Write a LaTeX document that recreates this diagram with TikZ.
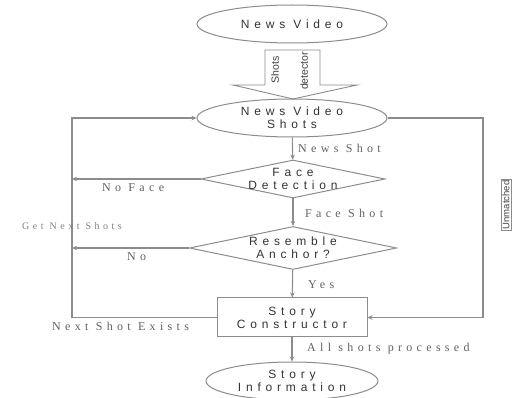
\documentclass[tikz,border=0pt]{standalone}
\usepackage{fontspec}
\setmainfont{Liberation Serif}
\newfontfamily\nodefont{Liberation Sans}[LetterSpace=40]
\newfontfamily\lblfont{Liberation Serif}[LetterSpace=36]
\newfontfamily\smlblfont{Liberation Serif}[LetterSpace=35]
\newfontfamily\plainsans{Liberation Sans}
\usetikzlibrary{shapes.geometric,arrows.meta}
\begin{document}
\begin{tikzpicture}[x=1pt,y=-1pt,
  line/.style={draw=black!45, line width=1.1pt},
  arr/.style={line, -{Stealth[length=5pt,width=4.5pt]}},
  ell/.style={ellipse, draw=black!45, line width=1pt, inner sep=0pt, align=center,
    font=\nodefont\fontsize{12}{13}\selectfont, text=black!80},
  dia/.style={diamond, draw=black!45, line width=1pt, inner sep=0pt},
  txt/.style={font=\nodefont\fontsize{12}{13}\selectfont, text=black!80, align=center, inner sep=0pt},
  boxn/.style={rectangle, draw=black!45, line width=1pt, inner sep=0pt, align=center,
    font=\nodefont\fontsize{12}{13}\selectfont, text=black!80},
  lbl/.style={font=\lblfont\fontsize{12}{14}\selectfont, text=black!62, inner sep=0pt, anchor=west},
  vtxt/.style={font=\plainsans\fontsize{10.5}{12}\selectfont, text=black!75, inner sep=0pt, rotate=90},
]
\useasboundingbox (0,0) rectangle (515,398);
\coordinate (lx) at (72,0);
\coordinate (rx) at (483,0);

% nodes
\node[ell, minimum width=190pt, minimum height=38pt] (nv) at (292,24) {News Video};
\draw[draw=black!45, line width=0.9pt, fill=white] (265,50) -- (320,50) -- (320,85) -- (357,85) -- (293,99) -- (233,85) -- (265,85) -- cycle;
\node[vtxt] (sd1) at (275,70) {Shots};
\node[vtxt] (sd2) at (304,71) {detector};
\node[ell, minimum width=190pt, minimum height=38pt] (nvs) at (292,118) {News Video\\Shots};
\node[dia, minimum width=184pt, minimum height=38pt] (fd) at (293,179) {};
\node[txt] (fdt) at (293,179) {Face\\Detection};
\node[dia, minimum width=207pt, minimum height=43pt] (ra) at (293,248) {};
\node[txt] (rat) at (293,248) {Resemble\\Anchor?};
\node[boxn, minimum width=150pt, minimum height=39pt] (sc) at (292,317.5) {Story\\Constructor};
\node[ell, minimum width=172pt, minimum height=38pt] (si) at (292,381) {Story\\Information};

% connectors
\draw[arr] (nvs) -- (fd);
\draw[arr] (fd) -- (ra);
\draw[arr] (ra) -- (sc);
\draw[arr] (sc) -- (si);
\draw[arr] (fd.west) -- (fd.west -| lx);
\draw[arr] (ra.west) -- (ra.west -| lx);
\draw[arr] (sc.west) -- (sc.west -| lx) -- (lx |- nvs.west) -- (nvs.west);
\draw[arr] (nvs.east) -- (nvs.east -| rx) -- (rx |- sc.east) -- (sc.east);

% labels
\node[lbl] (l1) at (298,148) {News Shot};
\node[lbl] (l2) at (102,188) {No Face};
\node[lbl] (l3) at (305,213) {Face Shot};
\node[lbl] (l4) at (127,257) {No};
\node[font=\smlblfont\fontsize{10}{12}\selectfont, text=black!50, inner sep=0pt] (l5) at (72,226) {Get Next Shots};
\node[lbl] (l6) at (308,285) {Yes};
\node[lbl] (l7) at (52,326) {Next Shot Exists};
\node[lbl] (l8) at (307,349) {All shots processed};
\node[font=\plainsans\fontsize{9.5}{11}\selectfont, text=black!75, draw=black!45, line width=0.7pt, inner sep=1.5pt, rotate=90] (um) at (506,205) {Unmatched};
\end{tikzpicture}
\end{document}
